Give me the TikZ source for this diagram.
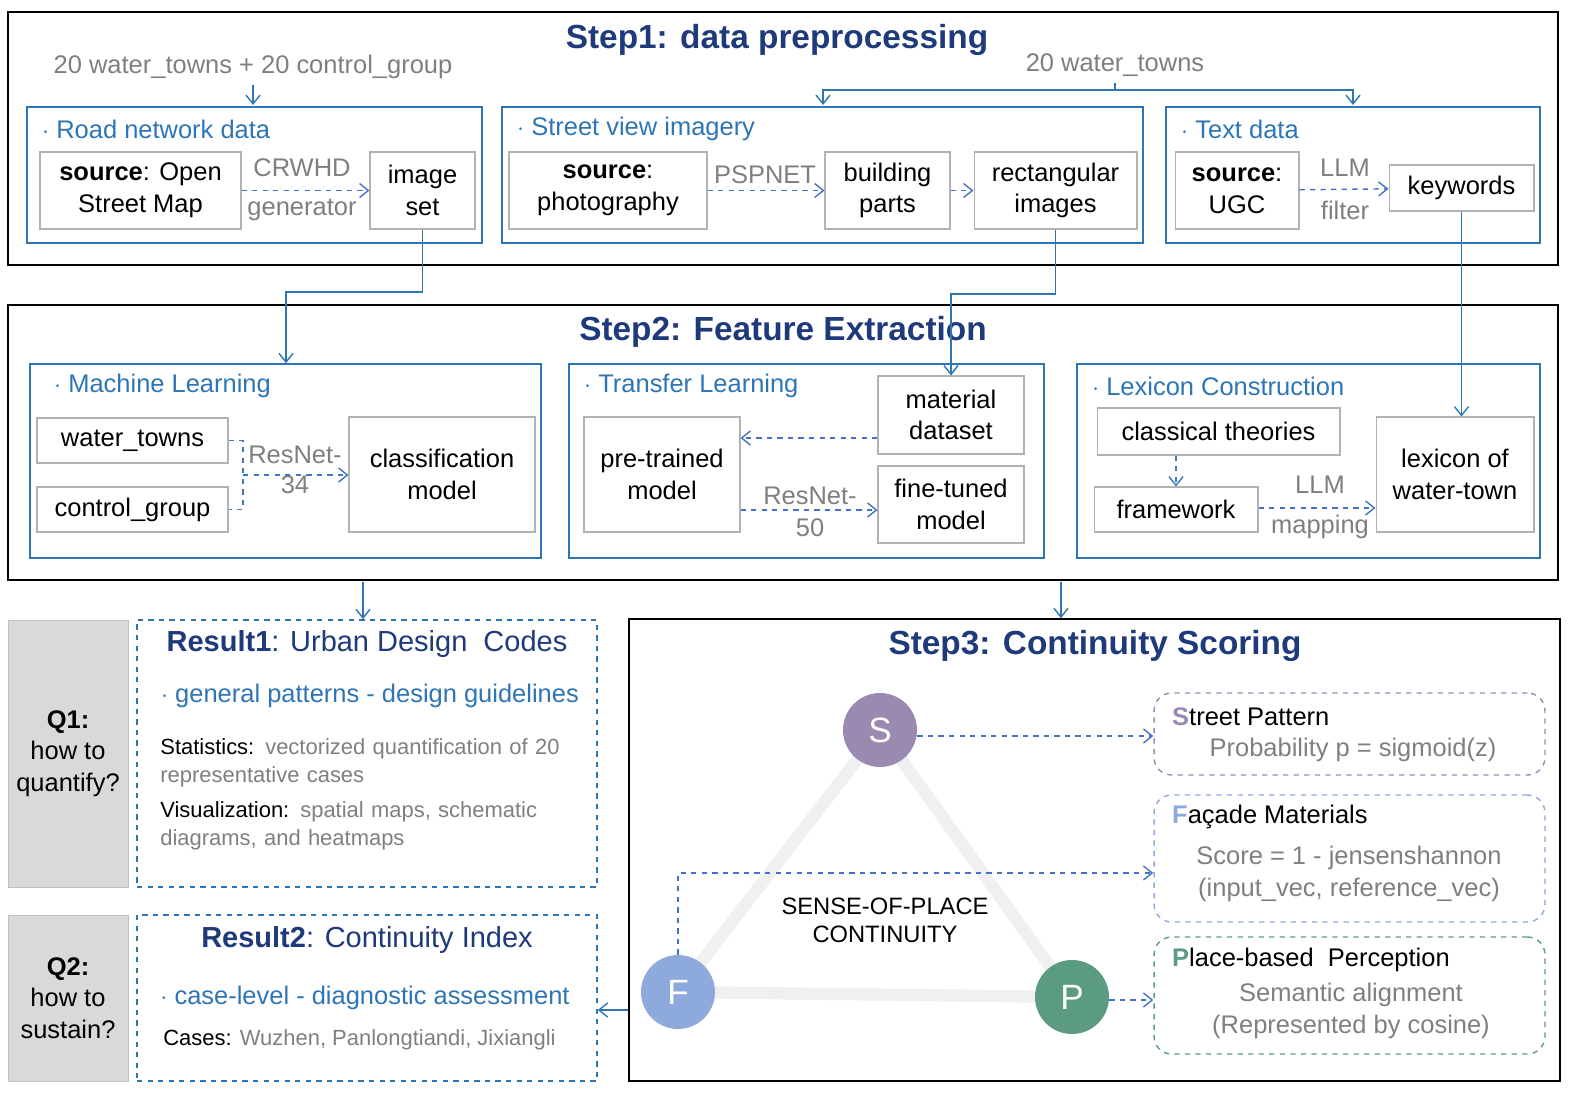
\documentclass[tikz,border=0pt]{standalone}
\usepackage{fontspec}
\setmainfont{Liberation Sans}
\usetikzlibrary{arrows.meta}
\definecolor{titleblue}{HTML}{1F3A7A}
\definecolor{lblue}{HTML}{2E75B6}
\definecolor{arrblue}{HTML}{4472C4}
\definecolor{txtgray}{HTML}{7F7F7F}
\definecolor{spurple}{HTML}{9A8AB2}
\definecolor{fblue}{HTML}{8EA9DB}
\definecolor{pgreen}{HTML}{5B9B82}
\tikzset{
  stepbox/.style={draw=black, line width=0.9pt, inner sep=0pt},
  groupbox/.style={draw=lblue, line width=0.9pt, inner sep=0pt},
  itembox/.style={draw=gray!60, line width=0.6pt, align=center, inner sep=0pt, font=\fontsize{14.5}{18}\selectfont},
  grouplabel/.style={anchor=west, text=lblue, font=\fontsize{14.5}{17}\selectfont},
  steptitle/.style={text=titleblue, font=\fontsize{19}{22}\selectfont\bfseries},
  edgelabel/.style={text=txtgray, font=\fontsize{14.5}{17}\selectfont},
  flow/.style={draw=lblue, line width=0.8pt, -{Straight Barb[length=5pt,width=8pt]}},
  dflow/.style={draw=arrblue, line width=0.8pt, dashed, -{Straight Barb[length=5pt,width=8pt]}},
  qbox/.style={draw=gray!50, fill=gray!30, align=center, inner sep=0pt, font=\fontsize{14.5}{18}\selectfont},
  resbox/.style={draw=lblue, dashed, line width=1pt, inner sep=0pt},
  metric/.style={rounded corners=10pt, dashed, line width=0.8pt, inner sep=0pt},
  letter/.style={circle, minimum size=1.48cm, text=white, font=\fontsize{20}{20}\selectfont},
}
\begin{document}
\begin{tikzpicture}[x=0.02cm, y=-0.02cm]
			% Step 1
			\node[stepbox, minimum width=31cm, minimum height=5.06cm] (step1) at (783,138.5) {};
			\node[steptitle] (t1) at (777,40) {Step1: data preprocessing};
			\node[edgelabel] (in1) at (253,67) {20 water\_towns + 20 control\_group};
			\node[edgelabel] (in2) at (1115,65) {20 water\_towns};
			\node[groupbox, minimum width=9.1cm, minimum height=2.72cm] (road) at (254.5,175) {};
			\node[groupbox, minimum width=12.82cm, minimum height=2.72cm] (street) at (822.5,175) {};
			\node[groupbox, minimum width=7.48cm, minimum height=2.72cm] (text) at (1353,175) {};
			\node[grouplabel] at (36,129) {$\cdot$ Road network data};
			\node[grouplabel] at (511,129) {$\cdot$ Street view imagery};
			\node[grouplabel] at (1175,129) {$\cdot$ Text data};
			\node[itembox, minimum width=4.02cm, minimum height=1.54cm] (osm)   at (140.5,190.5) {\textbf{source}: Open\\Street Map};
			\node[itembox, minimum width=2.1cm,  minimum height=1.54cm] (imgset) at (422.5,190.5) {image\\set};
			\node[itembox, minimum width=3.96cm, minimum height=1.54cm] (photo) at (608,190.5) {\textbf{source}:\\photography};
			\node[itembox, minimum width=2.5cm,  minimum height=1.54cm] (bparts) at (887.5,190.5) {building\\parts};
			\node[itembox, minimum width=3.26cm, minimum height=1.54cm] (rect)  at (1055.5,190.5) {rectangular\\images};
			\node[itembox, minimum width=2.48cm, minimum height=1.54cm] (ugc)   at (1237,190.5) {\textbf{source}:\\UGC};
			\node[itembox, minimum width=2.9cm,  minimum height=0.92cm] (keyw)  at (1461.5,188) {keywords};
			\node[edgelabel] at (302,168) {CRWHD};
			\node[edgelabel] at (302,210) {generator};
			\node[edgelabel] at (765,175) {PSPNET};
			\node[edgelabel] at (1345,168) {LLM};
			\node[edgelabel] at (1345,210) {filter};
			\def\list {osm/imgset, photo/bparts, bparts/rect, ugc/keyw}
			\foreach \u\v in \list
			{	\draw[dflow] (\u) -- (\v);
			}
			\draw[flow] (in1) -- (253,105);
			\draw[lblue, line width=0.8pt] (in2.south) -- (1115,90) coordinate (split);
			\draw[flow] (split) -| (823,105);
			\draw[flow] (split) -| (1353,105);
			% Step 2
			\node[stepbox, minimum width=31cm, minimum height=5.5cm] (step2) at (783,442.5) {};
			\node[steptitle] (t2) at (783,332) {Step2: Feature Extraction};
			\node[groupbox, minimum width=10.22cm, minimum height=3.88cm] (ml) at (285.5,461) {};
			\node[groupbox, minimum width=9.5cm,  minimum height=3.88cm] (tl) at (806.5,461) {};
			\node[groupbox, minimum width=9.26cm, minimum height=3.88cm] (lc) at (1308.5,461) {};
			\node[grouplabel] at (48,386) {$\cdot$ Machine Learning};
			\node[grouplabel] at (578,386) {$\cdot$ Transfer Learning};
			\node[grouplabel] at (1086,386) {$\cdot$ Lexicon Construction};
			\node[itembox, minimum width=3.82cm, minimum height=0.9cm] (wt)   at (132.5,440.5) {water\_towns};
			\node[itembox, minimum width=3.82cm, minimum height=0.9cm] (cg)   at (132.5,509.5) {control\_group};
			\node[itembox, minimum width=3.72cm, minimum height=2.3cm] (cls)  at (442,474.5) {classification\\model};
			\node[itembox, minimum width=2.92cm, minimum height=1.56cm] (mat)  at (951,415) {material\\dataset};
			\node[itembox, minimum width=3.12cm, minimum height=2.3cm] (pre)  at (662,474.5) {pre-trained\\model};
			\node[itembox, minimum width=2.92cm, minimum height=1.54cm] (fine) at (951,504.5) {fine-tuned\\model};
			\node[itembox, minimum width=4.86cm, minimum height=0.94cm] (theo) at (1218.5,431.5) {classical theories};
			\node[itembox, minimum width=3.28cm, minimum height=0.9cm] (frame) at (1176,509.5) {framework};
			\node[itembox, minimum width=3.16cm, minimum height=2.3cm] (lex)  at (1455,474.5) {lexicon of\\water-town};
			\node[edgelabel] at (295,455) {ResNet-};
			\node[edgelabel] at (295,485) {34};
			\node[edgelabel] at (810,496) {ResNet-};
			\node[edgelabel] at (810,528) {50};
			\node[edgelabel] at (1320,485) {LLM};
			\node[edgelabel] at (1320,527) {mapping};
			\draw[arrblue, dashed, line width=0.8pt] (wt.east) -| (243,475) coordinate (merge) |- (cg.east);
			\draw[dflow] (merge) -- (cls.west |- merge);
			\draw[dflow] (mat.west |- 0,438) -- (pre.east |- 0,438);
			\draw[dflow] (pre.east |- 0,510) -- (fine.west |- 0,510);
			\draw[dflow] (theo.south -| frame) -- (frame.north);
			\draw[dflow] (frame.east |- 0,508) -- (lex.west |- 0,508);
			\draw[flow] (imgset.south) |- (286,292) -- (ml.north -| 286,0);
			\draw[flow] (rect.south) |- (951,294) -- (mat.north);
			\draw[flow] (keyw.south) -- (lex.north -| keyw);
			% results and step 3
			\node[qbox, minimum width=2.4cm, minimum height=5.34cm] (q1) at (68,753.5) {\textbf{Q1:}\\how to\\quantify?};
			\node[qbox, minimum width=2.4cm, minimum height=3.32cm] (q2) at (68,998) {\textbf{Q2:}\\how to\\sustain?};
			\node[resbox, minimum width=9.2cm, minimum height=5.34cm] (r1) at (367,753.5) {};
			\node[resbox, minimum width=9.2cm, minimum height=3.32cm] (r2) at (367,998) {};
			\node[text=titleblue, font=\fontsize{16.5}{20}\selectfont] at (367,644) {\textbf{Result1}: Urban Design\ \ Codes};
			\node[text=lblue, font=\fontsize{14.5}{17}\selectfont] at (370,696) {$\cdot$ general patterns - design guidelines};
			\node[anchor=north west, align=left, text width=8.4cm, font=\fontsize{12.5}{16}\selectfont, text=txtgray, inner sep=0pt] at (160,738) {\textcolor{black}{Statistics:} vectorized quantification of 20 representative cases};
			\node[anchor=north west, align=left, text width=8.4cm, font=\fontsize{12.5}{16}\selectfont, text=txtgray, inner sep=0pt] at (160,801) {\textcolor{black}{Visualization:} spatial maps, schematic diagrams, and heatmaps};
			\node[text=titleblue, font=\fontsize{16.5}{20}\selectfont] at (367,940) {\textbf{Result2}: Continuity Index};
			\node[text=lblue, font=\fontsize{14.5}{17}\selectfont] at (365,998) {$\cdot$ case-level - diagnostic assessment};
			\node[anchor=west, font=\fontsize{12.5}{16}\selectfont, text=txtgray, inner sep=0pt] at (163,1040) {\textcolor{black}{Cases:} Wuzhen, Panlongtiandi, Jixiangli};
			\node[stepbox, minimum width=18.62cm, minimum height=9.24cm] (step3) at (1094.5,850) {};
			\node[steptitle] (t3) at (1095,646) {Step3: Continuity Scoring};
			\draw[flow] (363,582) -- (r1.north -| 363,0);
			\draw[flow] (1061,582) -- (step3.north -| 1061,0);
			\draw[gray!12, line width=7pt] (880,730) -- (678,992) -- (1072,997) -- cycle;
			\node[letter, fill=spurple] (S) at (880,730) {S};
			\node[letter, fill=fblue]   (F) at (678,992) {F};
			\node[letter, fill=pgreen]  (P) at (1072,997) {P};
			\node[align=center, font=\fontsize{13.5}{16}\selectfont] at (885,920) {SENSE-OF-PLACE\\CONTINUITY};
			\node[metric, draw=spurple, minimum width=7.82cm, minimum height=1.64cm] (sp) at (1349.5,734) {};
			\node[metric, draw=fblue,   minimum width=7.82cm, minimum height=2.54cm] (fm) at (1349.5,858.5) {};
			\node[metric, draw=pgreen,  minimum width=7.82cm, minimum height=2.34cm] (pp) at (1349.5,995.5) {};
			\node[anchor=west, font=\fontsize{14.5}{17}\selectfont] at (1166,717) {\textcolor{spurple}{\textbf{S}}treet Pattern};
			\node[text=txtgray, font=\fontsize{14.5}{17}\selectfont] at (1353,750) {Probability p = sigmoid(z)};
			\node[anchor=west, font=\fontsize{14.5}{17}\selectfont] at (1166,817) {\textcolor{fblue}{\textbf{F}}açade Materials};
			\node[text=txtgray, align=center, font=\fontsize{14.5}{18}\selectfont] at (1349,874) {Score = 1 - jensenshannon\\(input\_vec, reference\_vec)};
			\node[anchor=west, font=\fontsize{14.5}{17}\selectfont] at (1166,960) {\textcolor{pgreen}{\textbf{P}}lace-based\ \ Perception};
			\node[text=txtgray, align=center, font=\fontsize{14.5}{18}\selectfont] at (1351,1011) {Semantic alignment\\(Represented by cosine)};
			\draw[dflow] (S.east |- 0,736) -- (sp.west |- 0,736);
			\draw[dflow] (F.north) |- (fm.west |- 0,873);
			\draw[dflow] (P.east |- 0,1000) -- (pp.west |- 0,1000);
			\draw[flow] (step3.west |- 0,1010) -- (r2.east |- 0,1010);
			\pgfresetboundingbox
			\useasboundingbox (0,0) rectangle (1592,1112);
		\end{tikzpicture}
\end{document}
